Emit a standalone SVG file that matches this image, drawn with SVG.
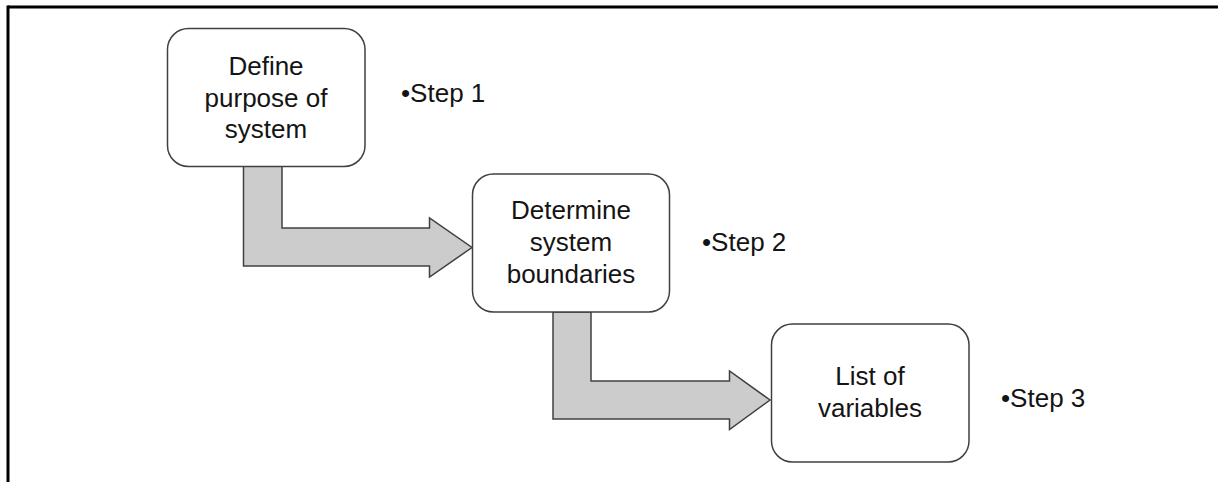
<svg xmlns="http://www.w3.org/2000/svg" width="1218" height="482" viewBox="0 0 1218 482">
  <style>
    .box { fill: #ffffff; stroke: #404040; stroke-width: 1.5; }
    .arrow { fill: #cccccc; stroke: #404040; stroke-width: 1.5; stroke-linejoin: miter; }
    .lbl { font-family: "Liberation Sans", Arial, sans-serif; font-size: 26px; fill: #141414; text-anchor: middle; }
    .step { font-family: "Liberation Sans", Arial, sans-serif; font-size: 26px; fill: #141414; }
    .frame { stroke: #000000; stroke-width: 3; fill: none; }
  </style>
  <rect width="1218" height="482" fill="#ffffff"/>
  <g id="frame">
    <line class="frame" x1="8" y1="7" x2="1218" y2="7"/>
    <line class="frame" x1="8" y1="5.5" x2="8" y2="482"/>
  </g>
  <g id="connectors">
    <path class="arrow" d="M243.5,166 L282,166 L282,228 L429.5,228 L429.5,218 L472,247.5 L429.5,277 L429.5,266 L243.5,266 Z"/>
    <path class="arrow" d="M553,312 L591,312 L591,381 L729.5,381 L729.5,371 L770,400 L729.5,429.5 L729.5,419 L553,419 Z"/>
  </g>
  <g id="node1">
    <rect class="box" x="167.5" y="28.5" width="197.5" height="138" rx="21" ry="21"/>
    <text class="lbl" x="266" y="75">Define</text>
    <text class="lbl" x="266" y="107">purpose of</text>
    <text class="lbl" x="266" y="138">system</text>
  </g>
  <g id="node2">
    <rect class="box" x="472.5" y="174" width="197" height="138" rx="21" ry="21"/>
    <text class="lbl" x="571" y="219">Determine</text>
    <text class="lbl" x="571" y="251">system</text>
    <text class="lbl" x="571" y="283">boundaries</text>
  </g>
  <g id="node3">
    <rect class="box" x="771.5" y="324" width="197.5" height="138" rx="21" ry="21"/>
    <text class="lbl" x="870" y="385">List of</text>
    <text class="lbl" x="870" y="417">variables</text>
  </g>
  <g id="step1"><text class="step" x="401" y="102">•Step 1</text></g>
  <g id="step2"><text class="step" x="702" y="251">•Step 2</text></g>
  <g id="step3"><text class="step" x="1001" y="407">•Step 3</text></g>
</svg>
